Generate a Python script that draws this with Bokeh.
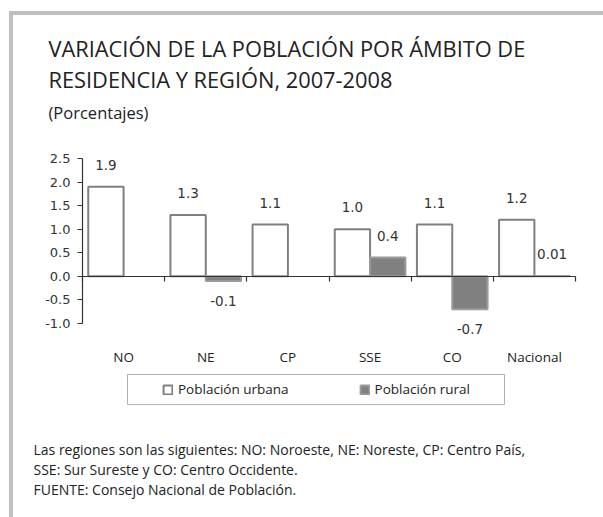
from bokeh.plotting import figure
from bokeh.models import (Range1d, LinearAxis, FixedTicker, NumeralTickFormatter,
                          ColumnDataSource, Legend, LegendItem, Label, BoxAnnotation)
from bokeh.transform import dodge
from bokeh.core.properties import value
from bokeh.embed import file_html
from bokeh.resources import INLINE

# ---- data ----
regions = ["NO", "NE", "CP", "SSE", "CO", "Nacional"]
urbana = [1.9, 1.3, 1.1, 1.0, 1.1, 1.2]
rural = [None, -0.1, None, 0.4, -0.7, 0.01]
series_names = ["Población urbana", "Población rural"]
y_ticks = [-1.0, -0.5, 0.0, 0.5, 1.0, 1.5, 2.0, 2.5]
title_lines = ["VARIACIÓN DE LA POBLACIÓN POR ÁMBITO DE",
               "RESIDENCIA Y REGIÓN, 2007-2008"]
subtitle = "(Porcentajes)"
notes = ["Las regiones son las siguientes: NO: Noroeste, NE: Noreste, CP: Centro País,",
         "SSE: Sur Sureste y CO: Centro Occidente.",
         "FUENTE: Consejo Nacional de Población."]

# ---- page layout (pixels) ----
W, H = 603, 517
AX_L, AX_R = 82, 575      # left / right end of the category axis
AX_T, AX_B = 158, 323     # top (2.5) / bottom (-1.0) of the value axis
n = len(regions)
ppx = (AX_R - AX_L) / n
ppy = (AX_B - AX_T) / (y_ticks[-1] - y_ticks[0])

def sy(page_y):           # screen units are measured upward from the canvas bottom
    return H - page_y

# ---- sources ----
def make_source(vals):
    xs, tops, labels, offs = [], [], [], []
    for i, v in enumerate(vals):
        if v is None:
            continue
        xs.append(i + 0.5)
        tops.append(v)
        labels.append(str(v))
        offs.append(-22 if v >= 0 else 20)
    return ColumnDataSource(dict(x=xs, top=tops, label=labels, yoff=offs))

src_u = make_source(urbana)
src_r = make_source(rural)

p = figure(width=W, height=H,
           x_range=Range1d(-AX_L / ppx, n + (W - AX_R) / ppx),
           y_range=Range1d(y_ticks[0] - (H - AX_B) / ppy, y_ticks[-1] + AX_T / ppy),
           output_backend="svg", toolbar_location=None,
           x_axis_location=None, y_axis_location=None,
           min_border=0)
p.outline_line_color = None
p.grid.visible = False
p.background_fill_color = None
p.border_fill_color = None
p.styles = {"background": "linear-gradient(#c0c0c0, #c0c0c0) 9px 11px / 594px 4px no-repeat, "
                          "linear-gradient(#c0c0c0, #c0c0c0) 9px 11px / 4px 506px no-repeat, #ffffff"}

BW = 0.43
OFF = 0.215
ru = p.vbar(x=dodge("x", -OFF, range=p.x_range), top="top", bottom=0, width=BW,
            source=src_u, fill_color="white", line_color="#808080", line_width=2)
rr = p.vbar(x=dodge("x", OFF, range=p.x_range), top="top", bottom=0, width=BW,
            source=src_r, fill_color="#808080", line_color="#9a9a9a", line_width=2)

for src, off in ((src_u, -OFF), (src_r, OFF)):
    p.text(x=dodge("x", off, range=p.x_range), y="top", text="label", y_offset="yoff",
           source=src, text_align="center", text_baseline="middle",
           text_font=value("DejaVu Sans"), text_font_size="13.5px", text_color="#333333")

# y axis at x = 0, limited to the tick span
ya = LinearAxis(ticker=FixedTicker(ticks=y_ticks), formatter=NumeralTickFormatter(format="0.0"),
                fixed_location=0, bounds=(y_ticks[0], y_ticks[-1]))
ya.major_tick_out = 5
ya.major_tick_in = 0
ya.minor_tick_line_color = None
ya.axis_line_color = "#333333"
ya.axis_line_width = 1.2
ya.major_tick_line_color = "#333333"
ya.major_tick_line_width = 1.2
ya.major_label_text_font = "DejaVu Sans"
ya.major_label_text_font_size = "13px"
ya.major_label_text_color = "#333333"
ya.major_label_standoff = 7
p.add_layout(ya, "left")

# x axis on the zero line: boundary ticks, labels at the bottom
xa = LinearAxis(ticker=FixedTicker(ticks=[i + 0.5 for i in range(n)],
                                   minor_ticks=list(range(n + 1))),
                major_label_overrides={i + 0.5: r for i, r in enumerate(regions)},
                fixed_location=0, bounds=(0, n))
xa.axis_line_color = "#333333"
xa.axis_line_width = 1.2
xa.major_tick_line_color = None
xa.major_tick_out = 0
xa.major_tick_in = 0
xa.minor_tick_in = 0
xa.minor_tick_out = 5
xa.minor_tick_line_color = "#333333"
xa.minor_tick_line_width = 1.2
xa.major_label_standoff = 67
xa.major_label_text_font = "Open Sans"
xa.major_label_text_font_size = "13.5px"
xa.major_label_text_color = "#222222"
p.add_layout(xa, "below")

# legend box and legend
p.add_layout(BoxAnnotation(left=127, right=504, top=sy(374), bottom=sy(404),
                           left_units="screen", right_units="screen",
                           top_units="screen", bottom_units="screen",
                           fill_color="white", fill_alpha=1,
                           line_color="#000000", line_width=1))
legend = Legend(items=[LegendItem(label=series_names[0], renderers=[ru]),
                       LegendItem(label=series_names[1], renderers=[rr])],
                orientation="horizontal", location=(162, sy(399)), padding=0, margin=0,
                spacing=70, glyph_width=11, glyph_height=11, label_standoff=5,
                label_height=20, label_text_font="Open Sans",
                label_text_font_size="13.5px", label_text_color="#222222",
                border_line_color=None, background_fill_alpha=0)
p.add_layout(legend, "center")

def lab(text, x, page_y, size):
    p.add_layout(Label(x=x, y=sy(page_y), x_units="screen", y_units="screen", text=text,
                       text_font="Open Sans", text_font_size=size, text_color="#222222",
                       text_align="left", text_baseline="alphabetic"))

lab(title_lines[0], 48, 48, "21.8px")
lab(title_lines[1], 48, 79, "21.8px")
lab(subtitle, 48, 112, "16.5px")
for k, t in enumerate(notes):
    lab(t, 33, 449 + 20 * k, "14px")

open("out.html", "w").write(file_html(p, INLINE))
